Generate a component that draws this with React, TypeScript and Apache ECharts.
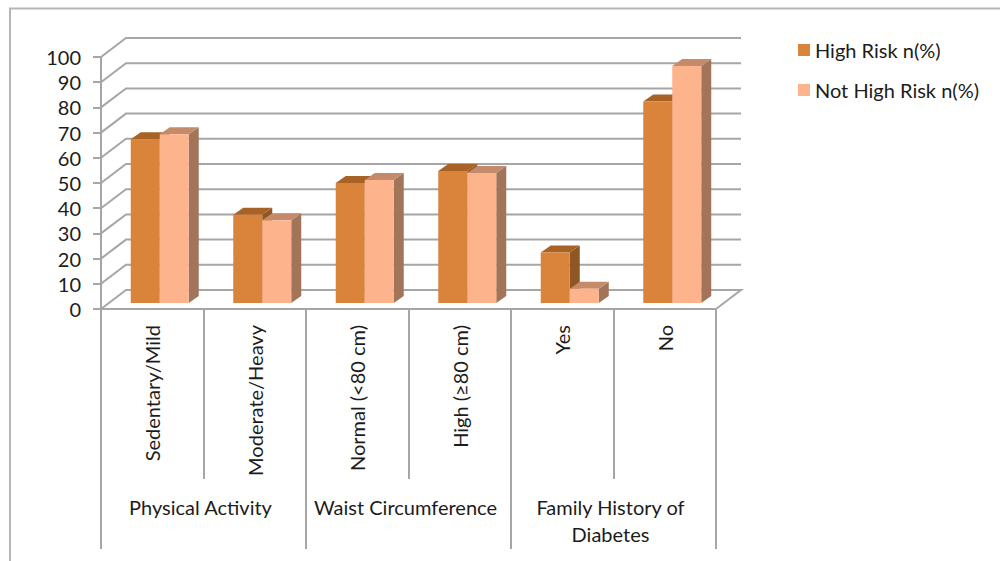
import React, { useEffect, useRef } from "react";
import * as echarts from "echarts";

const categories = ["Sedentary/Mild", "Moderate/Heavy", "Normal (<80 cm)", "High (≥80 cm)", "Yes", "No"];
const groups = ["Physical Activity", "Waist Circumference", "Family History of\nDiabetes"];
const highRisk = [65, 35, 47.6, 52.4, 20, 80];
const notHighRisk = [67, 32.8, 48.8, 51.6, 5.7, 94];
const gridTicks = [10, 20, 30, 40, 50, 60, 70, 80, 90, 100];

const FONT = "Lato";
const FONT_SIZE = 20;
const TEXT = "#1c1c1c";
const LINE = "#a6a6a6";

// Oblique projection used for the chart box and for the bars inside it.
const BOX_DX = 25;
const BOX_DY = -19;
const BAR_DX = 10;
const BAR_DY = -7;
const BASE_DX = 7.5;
const BASE_DY = -6;
const BAR_W = 29;

const prism = (front: string, top: string, side: string, slot: number) => (_: any, api: any) => {
  const c = api.coord([api.value(0), api.value(1)]);
  const zero = api.coord([api.value(0), 0]);
  const x0 = c[0] + BASE_DX + (slot - 1) * BAR_W;
  const x1 = x0 + BAR_W;
  const yt = c[1] + BASE_DY;
  const yb = zero[1] + BASE_DY;
  return {
    type: "group",
    children: [
      {
        type: "polygon",
        shape: { points: [[x1, yb], [x1 + BAR_DX, yb + BAR_DY], [x1 + BAR_DX, yt + BAR_DY], [x1, yt]] },
        style: { fill: side },
      },
      {
        type: "polygon",
        shape: { points: [[x0, yt], [x0 + BAR_DX, yt + BAR_DY], [x1 + BAR_DX, yt + BAR_DY], [x1, yt]] },
        style: { fill: top },
      },
      { type: "rect", shape: { x: x0, y: yt, width: BAR_W, height: yb - yt }, style: { fill: front } },
    ],
  };
};

// Gridlines run from the front axis, back along the side wall, then across the back wall.
const wallLine = (params: any, api: any) => {
  const box = params.coordSys;
  const y = api.coord([0, api.value(0)])[1];
  return {
    type: "polyline",
    shape: {
      points: [
        [box.x, y],
        [box.x + BOX_DX, y + BOX_DY],
        [box.x + box.width + BOX_DX, y + BOX_DY],
      ],
    },
    style: { stroke: LINE, lineWidth: 2, fill: "none" },
  };
};

const floorLine = (params: any, api: any) => {
  const box = params.coordSys;
  const y = api.coord([0, 0])[1];
  return {
    type: "polyline",
    shape: {
      points: [
        [box.x, y],
        [box.x + BOX_DX, y + BOX_DY],
        [box.x + box.width + BOX_DX, y + BOX_DY],
        [box.x + box.width, y],
      ],
    },
    style: { stroke: LINE, lineWidth: 2, fill: "none" },
  };
};

export default function App() {
  const ref = useRef<HTMLDivElement>(null);

  useEffect(() => {
    const chart = echarts.init(ref.current!, undefined, { renderer: "svg" });
    chart.setOption({
      animation: false,
      backgroundColor: "#ffffff",
      textStyle: { fontFamily: FONT },
      grid: { left: 101, right: 284, top: 57, bottom: 252, containLabel: false },
      legend: {
        left: 793,
        top: 35,
        orient: "vertical",
        itemWidth: 12,
        itemHeight: 12,
        itemGap: 20,
        icon: "rect",
        data: ["High Risk n(%)", "Not High Risk n(%)"],
        textStyle: { fontFamily: FONT, fontSize: FONT_SIZE, color: TEXT },
        selectedMode: false,
      },
      xAxis: [
        {
          type: "category",
          data: categories,
          axisLine: { show: true, onZero: false, lineStyle: { color: LINE, width: 2 } },
          axisTick: { show: true, alignWithLabel: false, length: 170, lineStyle: { color: LINE, width: 2 } },
          axisLabel: {
            interval: 0,
            rotate: 90,
            margin: 16,
            fontFamily: FONT,
            fontSize: FONT_SIZE,
            color: TEXT,
          },
        },
        {
          type: "category",
          position: "bottom",
          data: groups,
          axisLine: { show: false },
          axisTick: { show: true, alignWithLabel: false, length: 240, lineStyle: { color: LINE, width: 2 } },
          axisLabel: {
            interval: 0,
            margin: 184,
            padding: [0, 6, 0, 0],
            fontFamily: FONT,
            fontSize: FONT_SIZE,
            lineHeight: 27,
            verticalAlign: "top",
            color: TEXT,
          },
        },
      ],
      yAxis: {
        type: "value",
        min: 0,
        max: 100,
        interval: 10,
        splitLine: { show: false },
        axisLine: { show: true, lineStyle: { color: LINE, width: 2 } },
        axisTick: { show: true, length: 8, lineStyle: { color: LINE, width: 2 } },
        axisLabel: { margin: 20, fontFamily: FONT, fontSize: FONT_SIZE, color: TEXT },
      },
      series: [
        {
          type: "custom",
          name: "walls",
          silent: true,
          z: 1,
          clip: false,
          data: gridTicks.map((t) => [t]),
          encode: { y: 0 },
          renderItem: wallLine,
        },
        {
          type: "custom",
          name: "floor",
          silent: true,
          z: 1,
          clip: false,
          data: [[0]],
          encode: { y: 0 },
          renderItem: floorLine,
        },
        {
          type: "custom",
          name: "High Risk n(%)",
          z: 3,
          clip: false,
          itemStyle: { color: "#d9833b" },
          data: categories.map((_, i) => [i, highRisk[i]]),
          encode: { x: 0, y: 1 },
          renderItem: prism("#d9833b", "#a86225", "#8f5722", 0),
        },
        {
          type: "custom",
          name: "Not High Risk n(%)",
          z: 4,
          clip: false,
          itemStyle: { color: "#fdb38b" },
          data: categories.map((_, i) => [i, notHighRisk[i]]),
          encode: { x: 0, y: 1 },
          renderItem: prism("#fdb38b", "#c48a6a", "#a2755a", 1),
        },
      ],
      graphic: [
        {
          type: "polyline",
          silent: true,
          shape: { points: [[10, 561], [10, 8.5], [1000, 8.5]] },
          style: { stroke: "#b5b5b5", lineWidth: 2, fill: "none" },
        },
      ],
    });
    return () => chart.dispose();
  }, []);

  return <div ref={ref} style={{ position: "fixed", left: 0, top: 0, width: 1000, height: 561 }} />;
}
